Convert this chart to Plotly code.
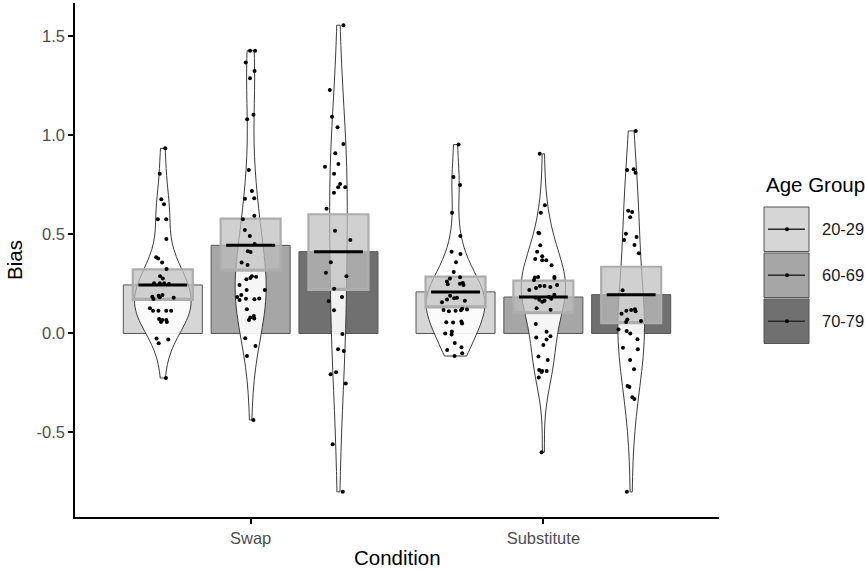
import numpy as np
import plotly.graph_objects as go

# ---------------- data ----------------
conditions = ["Swap", "Substitute"]
age_groups = ["20-29", "60-69", "70-79"]

swap_20_29 = [0.935, 0.807, 0.678, 0.652, 0.577, 0.577, 0.477, 0.385, 0.378, 0.358,
              0.326, 0.289, 0.277, 0.253, 0.253, 0.250, 0.253, 0.194, 0.190, 0.186,
              0.183, 0.180, 0.174, 0.127, 0.115, 0.115, 0.115, 0.115, 0.073, 0.068,
              0.068, 0.058, 0.058, -0.026, -0.031, -0.050, -0.225]
swap_60_69 = [1.428, 1.428, 1.368, 1.326, 1.289, 1.105, 1.082, 0.826, 0.720, 0.683,
              0.680, 0.595, 0.577, 0.523, 0.492, 0.452, 0.415, 0.412, 0.359, 0.346,
              0.289, 0.286, 0.280, 0.274, 0.245, 0.220, 0.220, 0.194, 0.184, 0.176,
              0.175, 0.173, 0.169, 0.122, 0.088, 0.080, 0.075, 0.068, -0.024, -0.063,
              -0.114, -0.437]
swap_70_79 = [1.557, 1.230, 1.095, 1.041, 0.957, 0.910, 0.856, 0.842, 0.806, 0.755,
              0.738, 0.738, 0.711, 0.630, 0.519, 0.472, 0.360, 0.306, 0.289, 0.226,
              0.184, 0.163, 0.117, -0.003, -0.080, -0.088, -0.196, -0.206, -0.253,
              -0.560, -0.800]
substitute_20_29 = [0.954, 0.790, 0.750, 0.610, 0.492, 0.413, 0.401, 0.360, 0.311, 0.284,
                    0.278, 0.262, 0.255, 0.251, 0.249, 0.245, 0.190, 0.180, 0.178, 0.172,
                    0.165, 0.158, 0.125, 0.121, 0.119, 0.117, 0.115, 0.112, 0.060, 0.057,
                    0.055, 0.050, 0.010, 0.000, -0.005, -0.048, -0.070, -0.083, -0.100,
                    -0.114]
substitute_60_69 = [0.907, 0.647, 0.610, 0.509, 0.506, 0.445, 0.413, 0.390, 0.376, 0.370,
                    0.370, 0.345, 0.285, 0.285, 0.282, 0.280, 0.270, 0.245, 0.240, 0.240,
                    0.235, 0.230, 0.220, 0.195, 0.186, 0.180, 0.175, 0.170, 0.165, 0.160,
                    0.127, 0.120, 0.048, 0.009, -0.014, -0.020, -0.030, -0.058, -0.117,
                    -0.134, -0.185, -0.190, -0.190, -0.195, -0.223, -0.600]
substitute_70_79 = [1.023, 0.829, 0.826, 0.812, 0.620, 0.614, 0.587, 0.503, 0.487, 0.472,
                    0.447, 0.405, 0.218, 0.122, 0.118, 0.115, 0.112, 0.100, 0.070, 0.063,
                    0.058, 0.020, 0.013, 0.000, -0.029, -0.072, -0.080, -0.134, -0.181,
                    -0.265, -0.270, -0.322, -0.331, -0.800]

mean_swap = [0.245, 0.445, 0.413]
mean_substitute = [0.210, 0.184, 0.196]
hdi_low_swap = [0.170, 0.317, 0.220]
hdi_high_swap = [0.324, 0.580, 0.602]
hdi_low_substitute = [0.132, 0.102, 0.052]
hdi_high_substitute = [0.287, 0.267, 0.337]

y_tick_vals = [-0.5, 0.0, 0.5, 1.0, 1.5]
y_tick_text = ["-0.5", "0.0", "0.5", "1.0", "1.5"]

# ---------------- styling ----------------
bar_colors = ["#d6d6d6", "#a6a6a6", "#707070"]
FONT = "Liberation Sans, Arial, sans-serif"
W, H = 865, 571
ML, MR, MT, MB = 75, 146, 3, 54
PW, PH = W - ML - MR, H - MT - MB

samples = {
    ("Swap", "20-29"): swap_20_29, ("Swap", "60-69"): swap_60_69, ("Swap", "70-79"): swap_70_79,
    ("Substitute", "20-29"): substitute_20_29, ("Substitute", "60-69"): substitute_60_69,
    ("Substitute", "70-79"): substitute_70_79,
}
means = {"Swap": mean_swap, "Substitute": mean_substitute}
hdi_low = {"Swap": hdi_low_swap, "Substitute": hdi_low_substitute}
hdi_high = {"Swap": hdi_high_swap, "Substitute": hdi_high_substitute}

DODGE = 0.3
BAR_W = 0.27
BAND_W = 0.205
MEAN_W = 0.167
VIOLIN_MAX_W = 0.20
BW_ADJUST = 1.3


def pos(ci, gi):
    return (ci + 1) + (gi - 1) * DODGE


def nrd0(x):
    x = np.asarray(x, float)
    sd = x.std(ddof=1)
    q75, q25 = np.percentile(x, [75, 25])
    lo = min(sd, (q75 - q25) / 1.34)
    return 0.9 * lo * len(x) ** -0.2


def max_density(x, bw):
    x = np.asarray(x, float)
    grid = np.linspace(x.min(), x.max(), 512)
    d = np.exp(-0.5 * ((grid[:, None] - x[None, :]) / bw) ** 2).sum(1)
    return (d / (len(x) * bw * np.sqrt(2 * np.pi))).max()


bws = {k: BW_ADJUST * nrd0(v) for k, v in samples.items()}
dmax = {k: max_density(v, bws[k]) for k, v in samples.items()}
dref = max(dmax.values())

fig = go.Figure()

# bars (means)
for gi, g in enumerate(age_groups):
    fig.add_trace(go.Bar(
        x=[pos(ci, gi) for ci in range(len(conditions))],
        y=[means[c][gi] for c in conditions],
        width=BAR_W,
        marker=dict(color=bar_colors[gi], line=dict(color="#555555", width=1)),
        showlegend=False, hoverinfo="skip"))

# violins
for ci, c in enumerate(conditions):
    for gi, g in enumerate(age_groups):
        vals = samples[(c, g)]
        fig.add_trace(go.Violin(
            x=[pos(ci, gi)] * len(vals), y=vals,
            width=VIOLIN_MAX_W * dmax[(c, g)] / dref,
            bandwidth=bws[(c, g)], spanmode="hard", scalemode="width",
            points=False, fillcolor="rgba(255,255,255,0.9)",
            line=dict(color="#3c3c3c", width=1),
            showlegend=False, hoverinfo="skip"))

# HDI bands
for gi, g in enumerate(age_groups):
    lo = [hdi_low[c][gi] for c in conditions]
    hi = [hdi_high[c][gi] for c in conditions]
    fig.add_trace(go.Box(
        x=[pos(ci, gi) for ci in range(len(conditions))],
        q1=lo, median=lo, q3=hi, lowerfence=lo, upperfence=hi,
        width=BAND_W, whiskerwidth=0,
        fillcolor="rgba(190,190,190,0.72)",
        line=dict(color="#adadad", width=2.2),
        boxpoints=False, showlegend=False, hoverinfo="skip"))

# raw data points
for gi, g in enumerate(age_groups):
    xs, ys = [], []
    for ci, c in enumerate(conditions):
        vals = samples[(c, g)]
        xs += [pos(ci, gi)] * len(vals)
        ys += vals
    fig.add_trace(go.Box(
        x=xs, y=ys, boxpoints="all", jitter=1, pointpos=0, width=0.11,
        fillcolor="rgba(0,0,0,0)", line=dict(color="rgba(0,0,0,0)", width=0),
        marker=dict(color="black", size=4), showlegend=False, hoverinfo="skip"))

# mean lines
mx, my = [], []
for ci, c in enumerate(conditions):
    for gi, g in enumerate(age_groups):
        p = pos(ci, gi)
        mx += [p - MEAN_W / 2, p + MEAN_W / 2, None]
        my += [means[c][gi], means[c][gi], None]
fig.add_trace(go.Scatter(x=mx, y=my, mode="lines", line=dict(color="black", width=3),
                         showlegend=False, hoverinfo="skip"))


# ---------------- custom legend (paper coordinates) ----------------
def xp(px):
    return (px - ML) / PW


def yp(py):
    return (H - MB - py) / PH


shapes, annotations = [], []
annotations.append(dict(x=xp(764), y=yp(185), xref="paper", yref="paper", text="Age Group",
                        showarrow=False, xanchor="left", yanchor="middle",
                        font=dict(family=FONT, size=20.5, color="black")))
box_tops = [207, 253, 299]
for gi, g in enumerate(age_groups):
    y0, y1 = box_tops[gi], box_tops[gi] + 44.5
    yc = (y0 + y1) / 2
    shapes.append(dict(type="rect", xref="paper", yref="paper", x0=xp(764), x1=xp(809),
                       y0=yp(y1), y1=yp(y0), fillcolor=bar_colors[gi],
                       line=dict(color="#555555", width=1)))
    shapes.append(dict(type="line", xref="paper", yref="paper", x0=xp(768), x1=xp(805),
                       y0=yp(yc), y1=yp(yc), line=dict(color="#2a2a2a", width=1.5)))
    shapes.append(dict(type="circle", xref="paper", yref="paper", x0=xp(785), x1=xp(789),
                       y0=yp(yc + 2), y1=yp(yc - 2), fillcolor="black", line=dict(width=0)))
    annotations.append(dict(x=xp(820), y=yp(yc), xref="paper", yref="paper", text=g,
                            showarrow=False, xanchor="left", yanchor="middle",
                            font=dict(family=FONT, size=16.5, color="#1a1a1a")))

# axis titles
annotations.append(dict(x=xp(14), y=yp((MT + H - MB) / 2), xref="paper", yref="paper",
                        text="Bias", textangle=-90, showarrow=False,
                        xanchor="center", yanchor="middle",
                        font=dict(family=FONT, size=20.5, color="black")))
annotations.append(dict(x=0.5, y=yp(557), xref="paper", yref="paper", text="Condition",
                        showarrow=False, xanchor="center", yanchor="middle",
                        font=dict(family=FONT, size=20.5, color="black")))

fig.update_layout(
    width=W, height=H,
    margin=dict(l=ML, r=MR, t=MT, b=MB, pad=0),
    paper_bgcolor="white", plot_bgcolor="white",
    barmode="overlay", boxmode="overlay", violinmode="overlay",
    showlegend=False,
    font=dict(family=FONT),
    shapes=shapes, annotations=annotations,
    xaxis=dict(range=[0.4, 2.6], tickmode="array", tickvals=[1, 2], ticktext=conditions,
               showline=True, linecolor="black", linewidth=1.5, ticks="outside",
               ticklen=5, tickwidth=1.5, tickcolor="black", showgrid=False, zeroline=False,
               tickfont=dict(family=FONT, size=16.5, color="#4d4d4d")),
    yaxis=dict(range=[-0.927, 1.669], tickmode="array", tickvals=y_tick_vals,
               ticktext=y_tick_text, showline=True, linecolor="black", linewidth=1.5,
               ticks="outside", ticklen=5, tickwidth=1.5, tickcolor="black",
               showgrid=False, zeroline=False,
               tickfont=dict(family=FONT, size=16.5, color="#4d4d4d")),
)

fig.write_html(
    "out.html",
    config={"displayModeBar": False},
    post_script="document.body.style.margin='0px';document.body.style.overflow='hidden';",
)
